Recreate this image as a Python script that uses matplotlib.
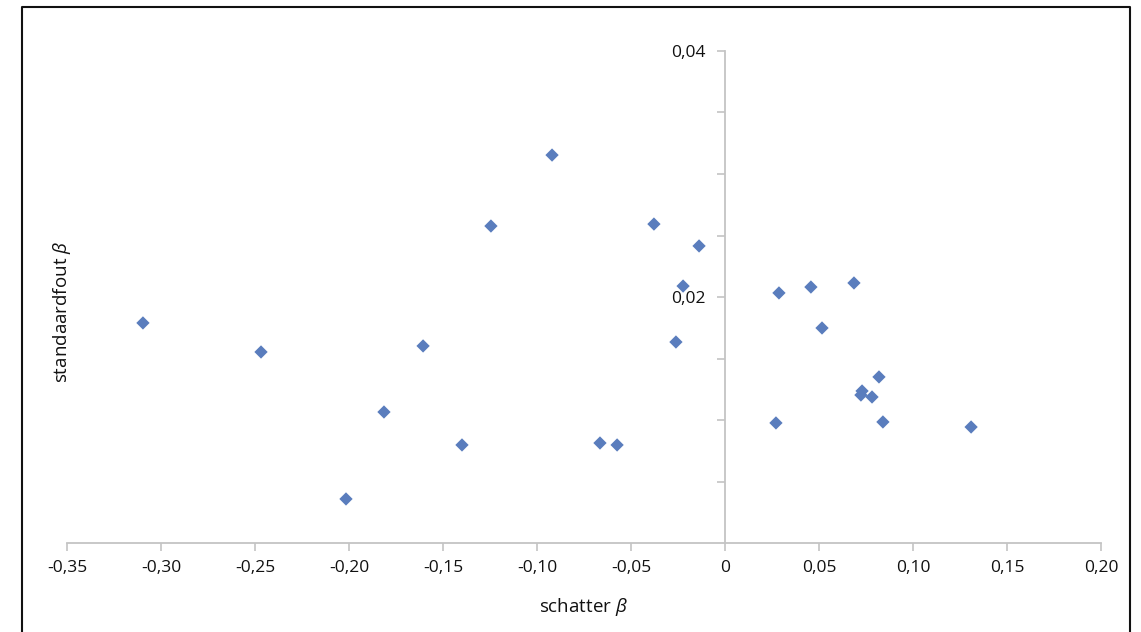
"""
Scatter van schatter beta tegen standaardfout beta
"""
import matplotlib
matplotlib.use('Agg')
import matplotlib.pyplot as plt
from matplotlib.lines import Line2D
import numpy as np

plt.rcParams['font.family'] = ['Open Sans', 'DejaVu Sans']
plt.rcParams['mathtext.fontset'] = 'custom'
plt.rcParams['mathtext.it'] = 'Open Sans:italic'
plt.rcParams['mathtext.rm'] = 'Open Sans'

# Data
schatter = [-0.3096, -0.2468, -0.2016, -0.1814, -0.1606, -0.1399, -0.1245,
            -0.0920, -0.0665, -0.0574, -0.0378, -0.0138, -0.0223, -0.0261,
            0.0271, 0.0287, 0.0457, 0.0516, 0.0686, 0.0819, 0.0729, 0.0723,
            0.0782, 0.0840, 0.1309]
standaardfout = [0.01789, 0.01553, 0.00358, 0.01065, 0.01602, 0.00797, 0.02577,
                 0.03154, 0.00813, 0.00797, 0.02593, 0.02415, 0.02089, 0.01634,
                 0.00976, 0.02033, 0.02081, 0.01748, 0.02114, 0.01350, 0.01236,
                 0.01203, 0.01187, 0.00984, 0.00943]

x_ticks = [-0.35, -0.30, -0.25, -0.20, -0.15, -0.10, -0.05, 0, 0.05, 0.10, 0.15, 0.20]
x_labels = ['-0,35', '-0,30', '-0,25', '-0,20', '-0,15', '-0,10', '-0,05', '0',
            '0,05', '0,10', '0,15', '0,20']
y_ticks = [0.005, 0.010, 0.015, 0.020, 0.025, 0.030, 0.035, 0.040]
y_labels = ['', '', '', '0,02', '', '', '', '0,04']

W, H = 1141, 632
fig = plt.figure(figsize=(W / 100, H / 100), dpi=100)
ax = fig.add_axes([67 / W, (H - 543) / H, (1101 - 67) / W, (543 - 51) / H])

ax.scatter(schatter, standaardfout, marker='D', s=46, color='#5a7dbd',
           edgecolors='none', zorder=3)

ax.set_xlim(-0.35, 0.20)
ax.set_ylim(0, 0.04)

axis_color = '#c4c4c4'
for side in ['top', 'right']:
    ax.spines[side].set_visible(False)
ax.spines['left'].set_position(('data', 0))
ax.spines['left'].set_color(axis_color)
ax.spines['left'].set_linewidth(1.3)
ax.spines['bottom'].set_color(axis_color)
ax.spines['bottom'].set_linewidth(1.3)

ax.set_xticks(x_ticks)
ax.set_xticklabels(x_labels)
ax.set_yticks(y_ticks)
ax.set_yticklabels(y_labels)
ax.tick_params(axis='x', direction='out', length=6, width=1.2, color=axis_color,
               labelsize=12.5, pad=6, labelcolor='#111111')
ax.tick_params(axis='y', direction='out', length=6, width=1.2, color=axis_color,
               labelsize=12.5, pad=8, labelcolor='#111111')
for lbl in ax.get_yticklabels():
    lbl.set_va('center_baseline')

# labels
fig.text(583 / W, 1 - 607 / H, r'schatter $\mathit{\beta}$', ha='center', va='center',
         fontsize=13.5, color='#111111')
fig.text(62 / W, 1 - 312 / H, r'standaardfout $\mathit{\beta}$', ha='center', va='center',
         rotation=90, fontsize=13.5, color='#111111')

# kader rond de figuur (onderkant valt buiten beeld)
fig.add_artist(Line2D([22 / W, 22 / W, 1130 / W, 1130 / W],
                      [0, 1 - 7 / H, 1 - 7 / H, 0],
                      transform=fig.transFigure, color='#111111', linewidth=1.5))

fig.savefig('out.png', dpi=100)
